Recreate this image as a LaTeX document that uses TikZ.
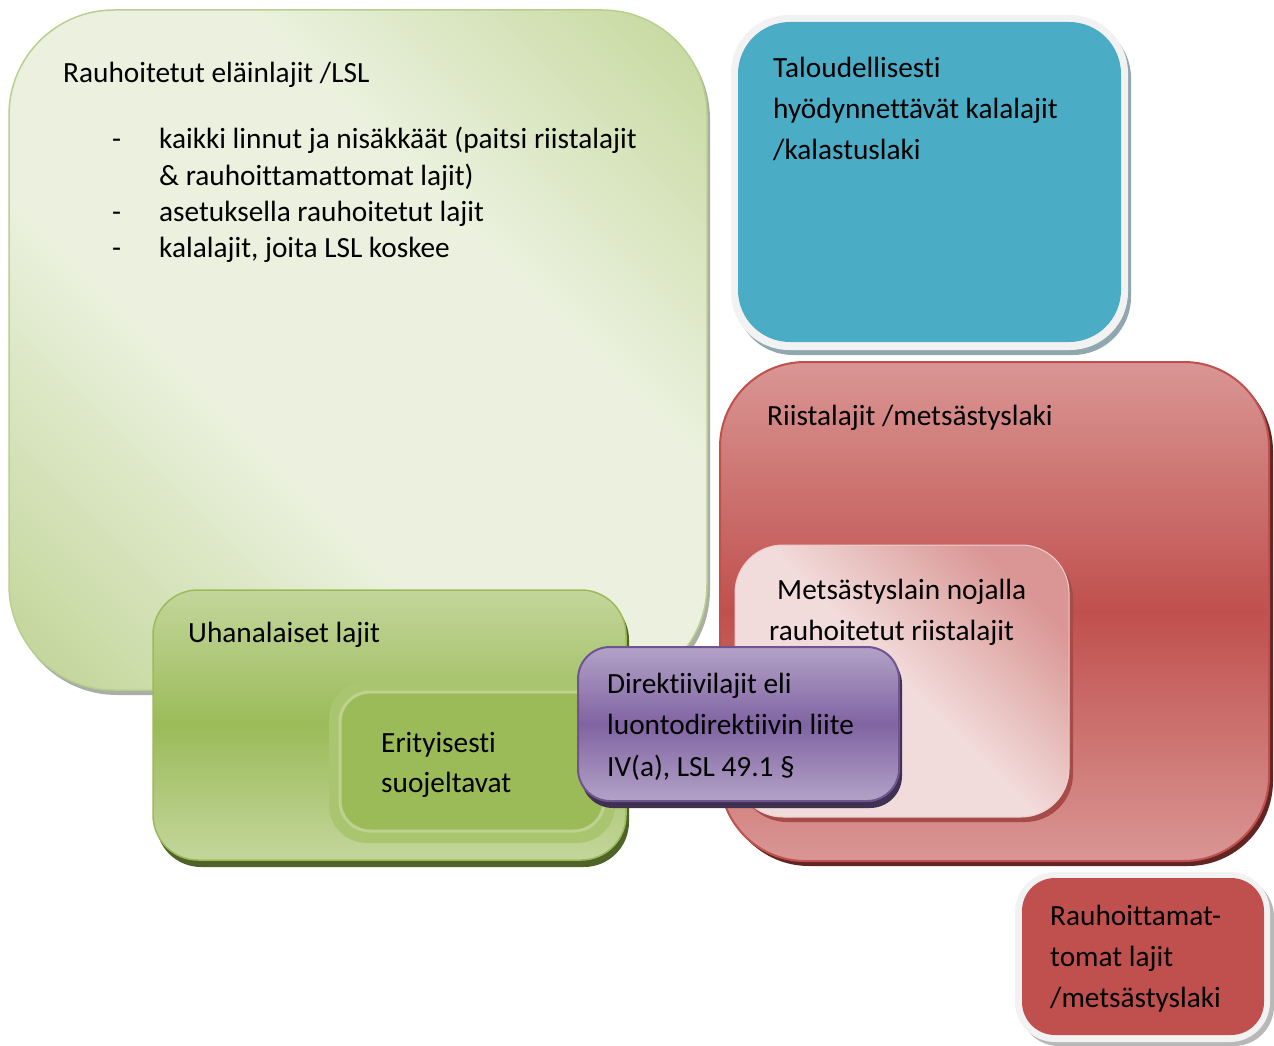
\documentclass[tikz,border=0pt]{standalone}
\usepackage{fontspec}
\setmainfont{Carlito}[Ligatures={NoCommon,NoContextual}]
\definecolor{gDark}{HTML}{C8DAA2}
\definecolor{gDark2}{HTML}{C3D69B}
\definecolor{gLight}{HTML}{EBF1DE}
\definecolor{gEdge}{HTML}{BACF8E}
\definecolor{grayShadow}{HTML}{A9AFA3}
\definecolor{blueC}{HTML}{4BACC6}
\definecolor{blueShadow}{HTML}{8FA7AF}
\definecolor{frameC}{HTML}{F2F2F2}
\definecolor{redL}{HTML}{D99694}
\definecolor{redM}{HTML}{C0504D}
\definecolor{redShadow}{HTML}{632523}
\definecolor{pinkL}{HTML}{F2DCDB}
\definecolor{pinkD}{HTML}{D99694}
\definecolor{pinkShadow}{HTML}{A64B48}
\definecolor{grL}{HTML}{C3D69B}
\definecolor{grM}{HTML}{9BBB59}
\definecolor{grShadow}{HTML}{4F6228}
\definecolor{grBand}{HTML}{A9C56F}
\definecolor{grLine}{HTML}{BDD28F}
\definecolor{puL}{HTML}{B3A2C7}
\definecolor{puM}{HTML}{8064A2}
\definecolor{puEdge}{HTML}{6E5590}
\definecolor{puShadow}{HTML}{3F3151}
\definecolor{smallShadow}{HTML}{B8B8B8}
\pgfdeclarehorizontalshading{greendiag}{100bp}{color(0bp)=(gDark2); color(17bp)=(gDark2); color(40bp)=(gLight); color(62bp)=(gLight); color(83bp)=(gDark); color(100bp)=(gDark)}
\begin{document}
\begin{tikzpicture}[x=1pt,y=-1pt,
  txt/.style={anchor=base west, inner sep=0pt, font=\fontsize{29.3}{35}\selectfont, text=black}]
\useasboundingbox (0,0) rectangle (1274,1046);

% big light green box
\fill[grayShadow, rounded corners=105pt] (12,14) rectangle (710,695);
\shade[rounded corners=105pt, shading=greendiag, shading angle=45,
  draw=gEdge, line width=1.5pt] (9,10) rectangle (707,690);

% blue box
\fill[blueShadow, rounded corners=58pt] (735,20) rectangle (1131,355);
\fill[frameC, rounded corners=58pt] (731,15) rectangle (1128,350);
\fill[blueC, rounded corners=52pt] (738,22) rectangle (1121,342);

% big red box
\fill[redShadow, rounded corners=85pt] (724,366) rectangle (1273,866);
\shade[rounded corners=85pt, top color=redL, bottom color=redL, middle color=redM,
  draw=redM, line width=2pt] (720,362) rectangle (1269,861);

% pink inner box
\fill[pinkShadow, rounded corners=48pt] (739,550) rectangle (1073,822);
\shade[rounded corners=48pt, top color=pinkD, bottom color=pinkL, middle color=pinkL,
  shading angle=-45, draw=pinkL!80!pinkD, line width=1pt] (735,545) rectangle (1069,817);

% green Uhanalaiset box
\fill[grShadow, rounded corners=45pt] (156,595) rectangle (629,867);
\shade[rounded corners=45pt, top color=grL, bottom color=grL, middle color=grM,
  draw=grM, line width=1.5pt] (153,590) rectangle (626,860);

% Erityisesti box
\fill[grBand, rounded corners=38pt] (329,681) rectangle (615,843);
\draw[grLine, line width=3pt, fill=grM, rounded corners=30pt] (340,692) rectangle (604,831);

% purple box
\fill[puShadow, rounded corners=32pt] (581,652) rectangle (902,808);
\shade[rounded corners=32pt, top color=puL, bottom color=puL, middle color=puM,
  draw=puEdge, line width=2pt] (578,647) rectangle (899,801);

% small red box
\fill[smallShadow, rounded corners=40pt] (1019,877) rectangle (1274,1046);
\fill[frameC, rounded corners=40pt] (1015,872) rectangle (1270,1042);
\fill[redM, rounded corners=33pt] (1022,878) rectangle (1264,1035);

% texts
\node[txt] (t1) at (63,83) {Rauhoitetut eläinlajit /LSL};
\node[txt] (d1) at (112,149) {-};
\node[txt] (b1) at (159,149) {kaikki linnut ja nisäkkäät (paitsi riistalajit};
\node[txt] (b1b) at (159,185) {\& rauhoittamattomat lajit)};
\node[txt] (d2) at (112,221) {-};
\node[txt] (b2) at (159,221) {asetuksella rauhoitetut lajit};
\node[txt] (d3) at (112,257) {-};
\node[txt] (b3) at (159,257) {kalalajit, joita LSL koskee};

\node[txt] (k1) at (773,78) {Taloudellisesti};
\node[txt] (k2) at (773,119) {hyödynnettävät kalalajit};
\node[txt] (k3) at (773,159) {/kalastuslaki};

\node[txt] (r1) at (767,425) {Riistalajit /metsästyslaki};

\node[txt] (m1) at (777,599) {Metsästyslain nojalla};
\node[txt] (m2) at (769,640) {rauhoitetut riistalajit};

\node[txt] (u1) at (188,642) {Uhanalaiset lajit};

\node[txt] (e1) at (381,752) {Erityisesti};
\node[txt] (e2) at (381,792) {suojeltavat};

\node[txt] (p1) at (607,693) {Direktiivilajit eli};
\node[txt] (p2) at (607,734) {luontodirektiivin liite};
\node[txt] (p3) at (607,776) {IV(a), LSL 49.1 §};

\node[txt] (s1) at (1050,925) {Rauhoittamat-};
\node[txt] (s2) at (1050,966) {tomat lajit};
\node[txt] (s3) at (1050,1007) {/metsästyslaki};
\end{tikzpicture}
\end{document}
